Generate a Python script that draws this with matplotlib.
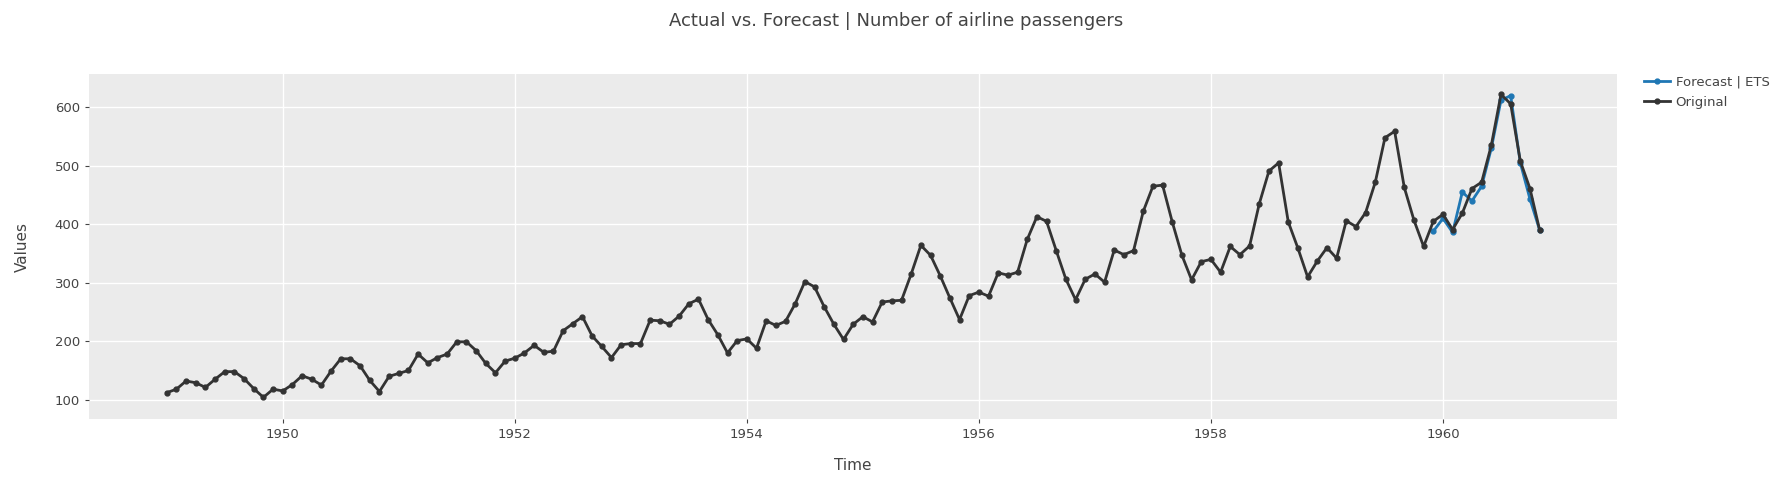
import matplotlib

matplotlib.use("Agg")
import matplotlib.pyplot as plt  # noqa: E402
import numpy as np  # noqa: E402

# monthly airline passengers, Jan 1949 .. Nov 1960
original = [
    112, 118, 132, 129, 121, 135, 148, 148, 136, 119, 104, 118,
    115, 126, 141, 135, 125, 149, 170, 170, 158, 133, 114, 140,
    145, 150, 178, 163, 172, 178, 199, 199, 184, 162, 146, 166,
    171, 180, 193, 181, 183, 218, 230, 242, 209, 191, 172, 194,
    196, 196, 236, 235, 229, 243, 264, 272, 237, 211, 180, 201,
    204, 188, 235, 227, 234, 264, 302, 293, 259, 229, 203, 229,
    242, 233, 267, 269, 270, 315, 364, 347, 312, 274, 237, 278,
    284, 277, 317, 313, 318, 374, 413, 405, 355, 306, 271, 306,
    315, 301, 356, 348, 355, 422, 465, 467, 404, 347, 305, 336,
    340, 318, 362, 348, 363, 435, 491, 505, 404, 359, 310, 337,
    360, 342, 406, 396, 420, 472, 548, 559, 463, 407, 362, 405,
    417, 391, 419, 461, 472, 535, 622, 606, 508, 461, 390,
]
time_orig = 1949 + np.arange(len(original)) / 12

# ETS forecast, Dec 1959 .. Nov 1960
forecast = [388, 410, 386, 455, 440, 465, 530, 612, 620, 505, 443, 390]
time_fc = 1959 + 11 / 12 + np.arange(len(forecast)) / 12

plt.rcParams.update({"font.family": "DejaVu Sans", "font.size": 9.5})
fig = plt.figure(figsize=(17.92, 4.78), dpi=100)
ax = fig.add_axes([89 / 1792, 1 - 419 / 478, (1617 - 89) / 1792, (419 - 74) / 478])
ax.set_facecolor("#ebebeb")
for s in ax.spines.values():
    s.set_visible(False)
ax.grid(True, color="white", lw=1)
ax.set_axisbelow(True)

ax.plot(time_fc, forecast, color="#1f77b4", lw=2, marker="o", ms=3.5, label="Forecast | ETS", zorder=3)
ax.plot(time_orig, original, color="#333333", lw=2, marker="o", ms=3.5, label="Original", zorder=4)

ax.set_xlim(1948.33, 1961.5)
ax.set_ylim(67, 657)
ax.set_xticks(np.arange(1950, 1961, 2))
ax.set_yticks(np.arange(100, 601, 100))
ax.tick_params(colors="#444444", length=3, color="#444444", labelsize=9.5)
ax.set_xlabel("Time", color="#444444", fontsize=11, labelpad=12)
ax.set_ylabel("Values", color="#444444", fontsize=11, labelpad=18)
fig.suptitle("Actual vs. Forecast | Number of airline passengers", y=0.975, color="#444444", fontsize=13)

h, l = ax.get_legend_handles_labels()
fig.legend(h, l, loc="upper left", bbox_to_anchor=(1644 / 1792, 1 - 76 / 478), frameon=False,
           fontsize=9.5, labelcolor="#444444", handlelength=2.0, handletextpad=0.4,
           borderaxespad=0, borderpad=0, labelspacing=0.5)

fig.savefig("out.png")
